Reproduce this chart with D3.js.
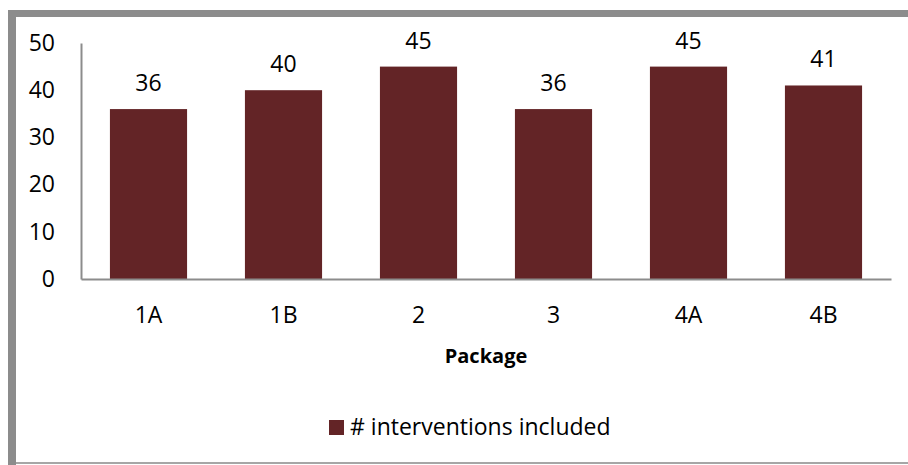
<!DOCTYPE html>
<html>
<head>
<meta charset="utf-8">
<script src="https://cdn.jsdelivr.net/npm/d3@7"></script>
<style>
  html, body { margin: 0; padding: 0; background: #fff; }
  svg { display: block; }
  text { font-family: "Open Sans", "Noto Sans", sans-serif; fill: #000; }
</style>
</head>
<body>
<svg id="chart" width="908" height="465"></svg>
<script>
// Number of interventions per package
const categories = ["1A", "1B", "2", "3", "4A", "4B"];
const values = [36, 40, 45, 36, 45, 41];
const yTicks = [0, 10, 20, 30, 40, 50];
const seriesName = "# interventions included";
const xTitle = "Package";

const W = 908, H = 465;
const plot = { left: 81, right: 891, top: 43, bottom: 279 };
const barColor = "#632426";
const axisColor = "#8c8c8c";
const fontSize = 23;

const svg = d3.select("#chart");

// chart frame
svg.append("rect").attr("x", 0).attr("y", 0).attr("width", W).attr("height", H).attr("fill", "#fff");
svg.append("rect").attr("x", 8).attr("y", 10).attr("width", W - 8).attr("height", 7).attr("fill", axisColor);
svg.append("rect").attr("x", 8).attr("y", 10).attr("width", 8).attr("height", H - 10).attr("fill", axisColor);
svg.append("rect").attr("x", 16).attr("y", 462).attr("width", W - 16).attr("height", 2).attr("fill", "#a6a6a6");

const x = d3.scaleBand()
  .domain(categories)
  .range([plot.left, plot.right])
  .paddingInner(0.4286)
  .paddingOuter(0.2143);

const y = d3.scaleLinear()
  .domain([0, 50])
  .range([plot.bottom, plot.top]);

// bars
svg.append("g").selectAll("rect")
  .data(categories)
  .join("rect")
  .attr("x", d => x(d))
  .attr("width", x.bandwidth())
  .attr("y", (d, i) => y(values[i]))
  .attr("height", (d, i) => y(0) - y(values[i]))
  .attr("fill", barColor);

// y axis
const yAxis = svg.append("g")
  .attr("transform", `translate(${plot.left},0)`)
  .call(d3.axisLeft(y).tickValues(yTicks).tickSize(0).tickPadding(26));
yAxis.select(".domain").attr("stroke", axisColor).attr("stroke-width", 2);
yAxis.selectAll("text").attr("font-size", fontSize).attr("font-family", "Open Sans").attr("fill", "#000");

// x axis
const xAxis = svg.append("g")
  .attr("transform", `translate(0,${plot.bottom})`)
  .call(d3.axisBottom(x).tickSize(0));
xAxis.select(".domain").attr("stroke", axisColor).attr("stroke-width", 2);
xAxis.selectAll("text")
  .attr("y", 44).attr("dy", 0)
  .attr("font-size", fontSize).attr("font-family", "Open Sans").attr("fill", "#000");

// value labels
svg.append("g").selectAll("text")
  .data(categories)
  .join("text")
  .attr("x", d => x(d) + x.bandwidth() / 2)
  .attr("y", (d, i) => y(values[i]) - 18)
  .attr("text-anchor", "middle")
  .attr("font-size", fontSize)
  .text((d, i) => values[i]);

// axis title
svg.append("text")
  .attr("x", (plot.left + plot.right) / 2)
  .attr("y", 363)
  .attr("text-anchor", "middle")
  .attr("font-size", 20)
  .attr("font-weight", "bold")
  .text(xTitle);

// legend
const legend = svg.append("g").attr("transform", "translate(329,420)");
legend.append("rect").attr("width", 15).attr("height", 15).attr("fill", barColor);
legend.append("text").attr("x", 21).attr("y", 15).attr("font-size", fontSize).text(seriesName);
</script>
</body>
</html>
